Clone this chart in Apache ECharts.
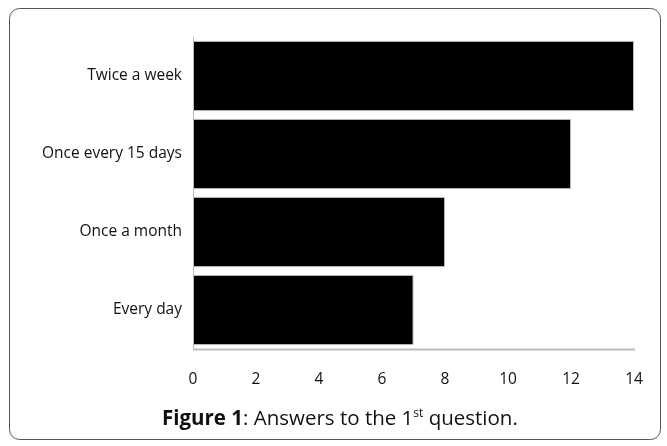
<!DOCTYPE html>
<html>
<head>
<meta charset="utf-8">
<script src="https://cdn.jsdelivr.net/npm/echarts@6/dist/echarts.min.js"></script>
<style>
  html, body { margin: 0; padding: 0; background: #fff; }
  #main { width: 667px; height: 446px; }
</style>
</head>
<body>
<div id="main"></div>
<script>
// 数据
const categories = ['Every day', 'Once a month', 'Once every 15 days', 'Twice a week'];
const values = [7, 8, 12, 14];
const xTicks = [0, 2, 4, 6, 8, 10, 12, 14];

const chart = echarts.init(document.getElementById('main'));
const font = '"Open Sans", "Noto Sans", sans-serif';

const option = {
  animation: false,
  backgroundColor: '#fff',
  textStyle: { fontFamily: font },
  grid: { left: 193, right: 33, top: 37, bottom: 97 },
  xAxis: {
    type: 'value',
    min: xTicks[0],
    max: xTicks[xTicks.length - 1],
    interval: 2,
    axisLine: { show: false },
    axisTick: { show: false },
    splitLine: { show: false },
    axisLabel: { color: '#111', fontSize: 15.5, margin: 23 }
  },
  yAxis: {
    type: 'category',
    data: categories,
    axisLine: { show: true, lineStyle: { color: '#bbb', width: 1 } },
    axisTick: { show: false },
    axisLabel: { color: '#111', fontSize: 15.5, margin: 11 }
  },
  series: [{
    type: 'bar',
    data: values,
    barCategoryGap: '10%',
    itemStyle: { color: '#000', borderColor: '#bbb', borderWidth: 1 }
  }],
  graphic: [
    {
      type: 'rect',
      shape: { x: 9.5, y: 8.5, width: 651, height: 431, r: 10 },
      style: { fill: 'none', stroke: '#555', lineWidth: 1 }
    },
    {
      // 底部基线
      type: 'line',
      shape: { x1: 193, y1: 349.5, x2: 635, y2: 349.5 },
      style: { stroke: '#bbb', lineWidth: 2 }
    },
    {
      type: 'text',
      left: 162,
      top: 408,
      style: {
        text: '{b|Figure 1}{n|: Answers to the 1}{s|st}{n| question.}',
        rich: {
          b: { fontFamily: font, fontSize: 20.5, fontWeight: 'bold', fill: '#111', verticalAlign: 'bottom' },
          n: { fontFamily: font, fontSize: 20.5, fill: '#111', verticalAlign: 'bottom' },
          s: { fontFamily: font, fontSize: 12, fill: '#111', verticalAlign: 'top', padding: [0, 0, 10, 0] }
        }
      }
    }
  ]
};

chart.setOption(option);
</script>
</body>
</html>
